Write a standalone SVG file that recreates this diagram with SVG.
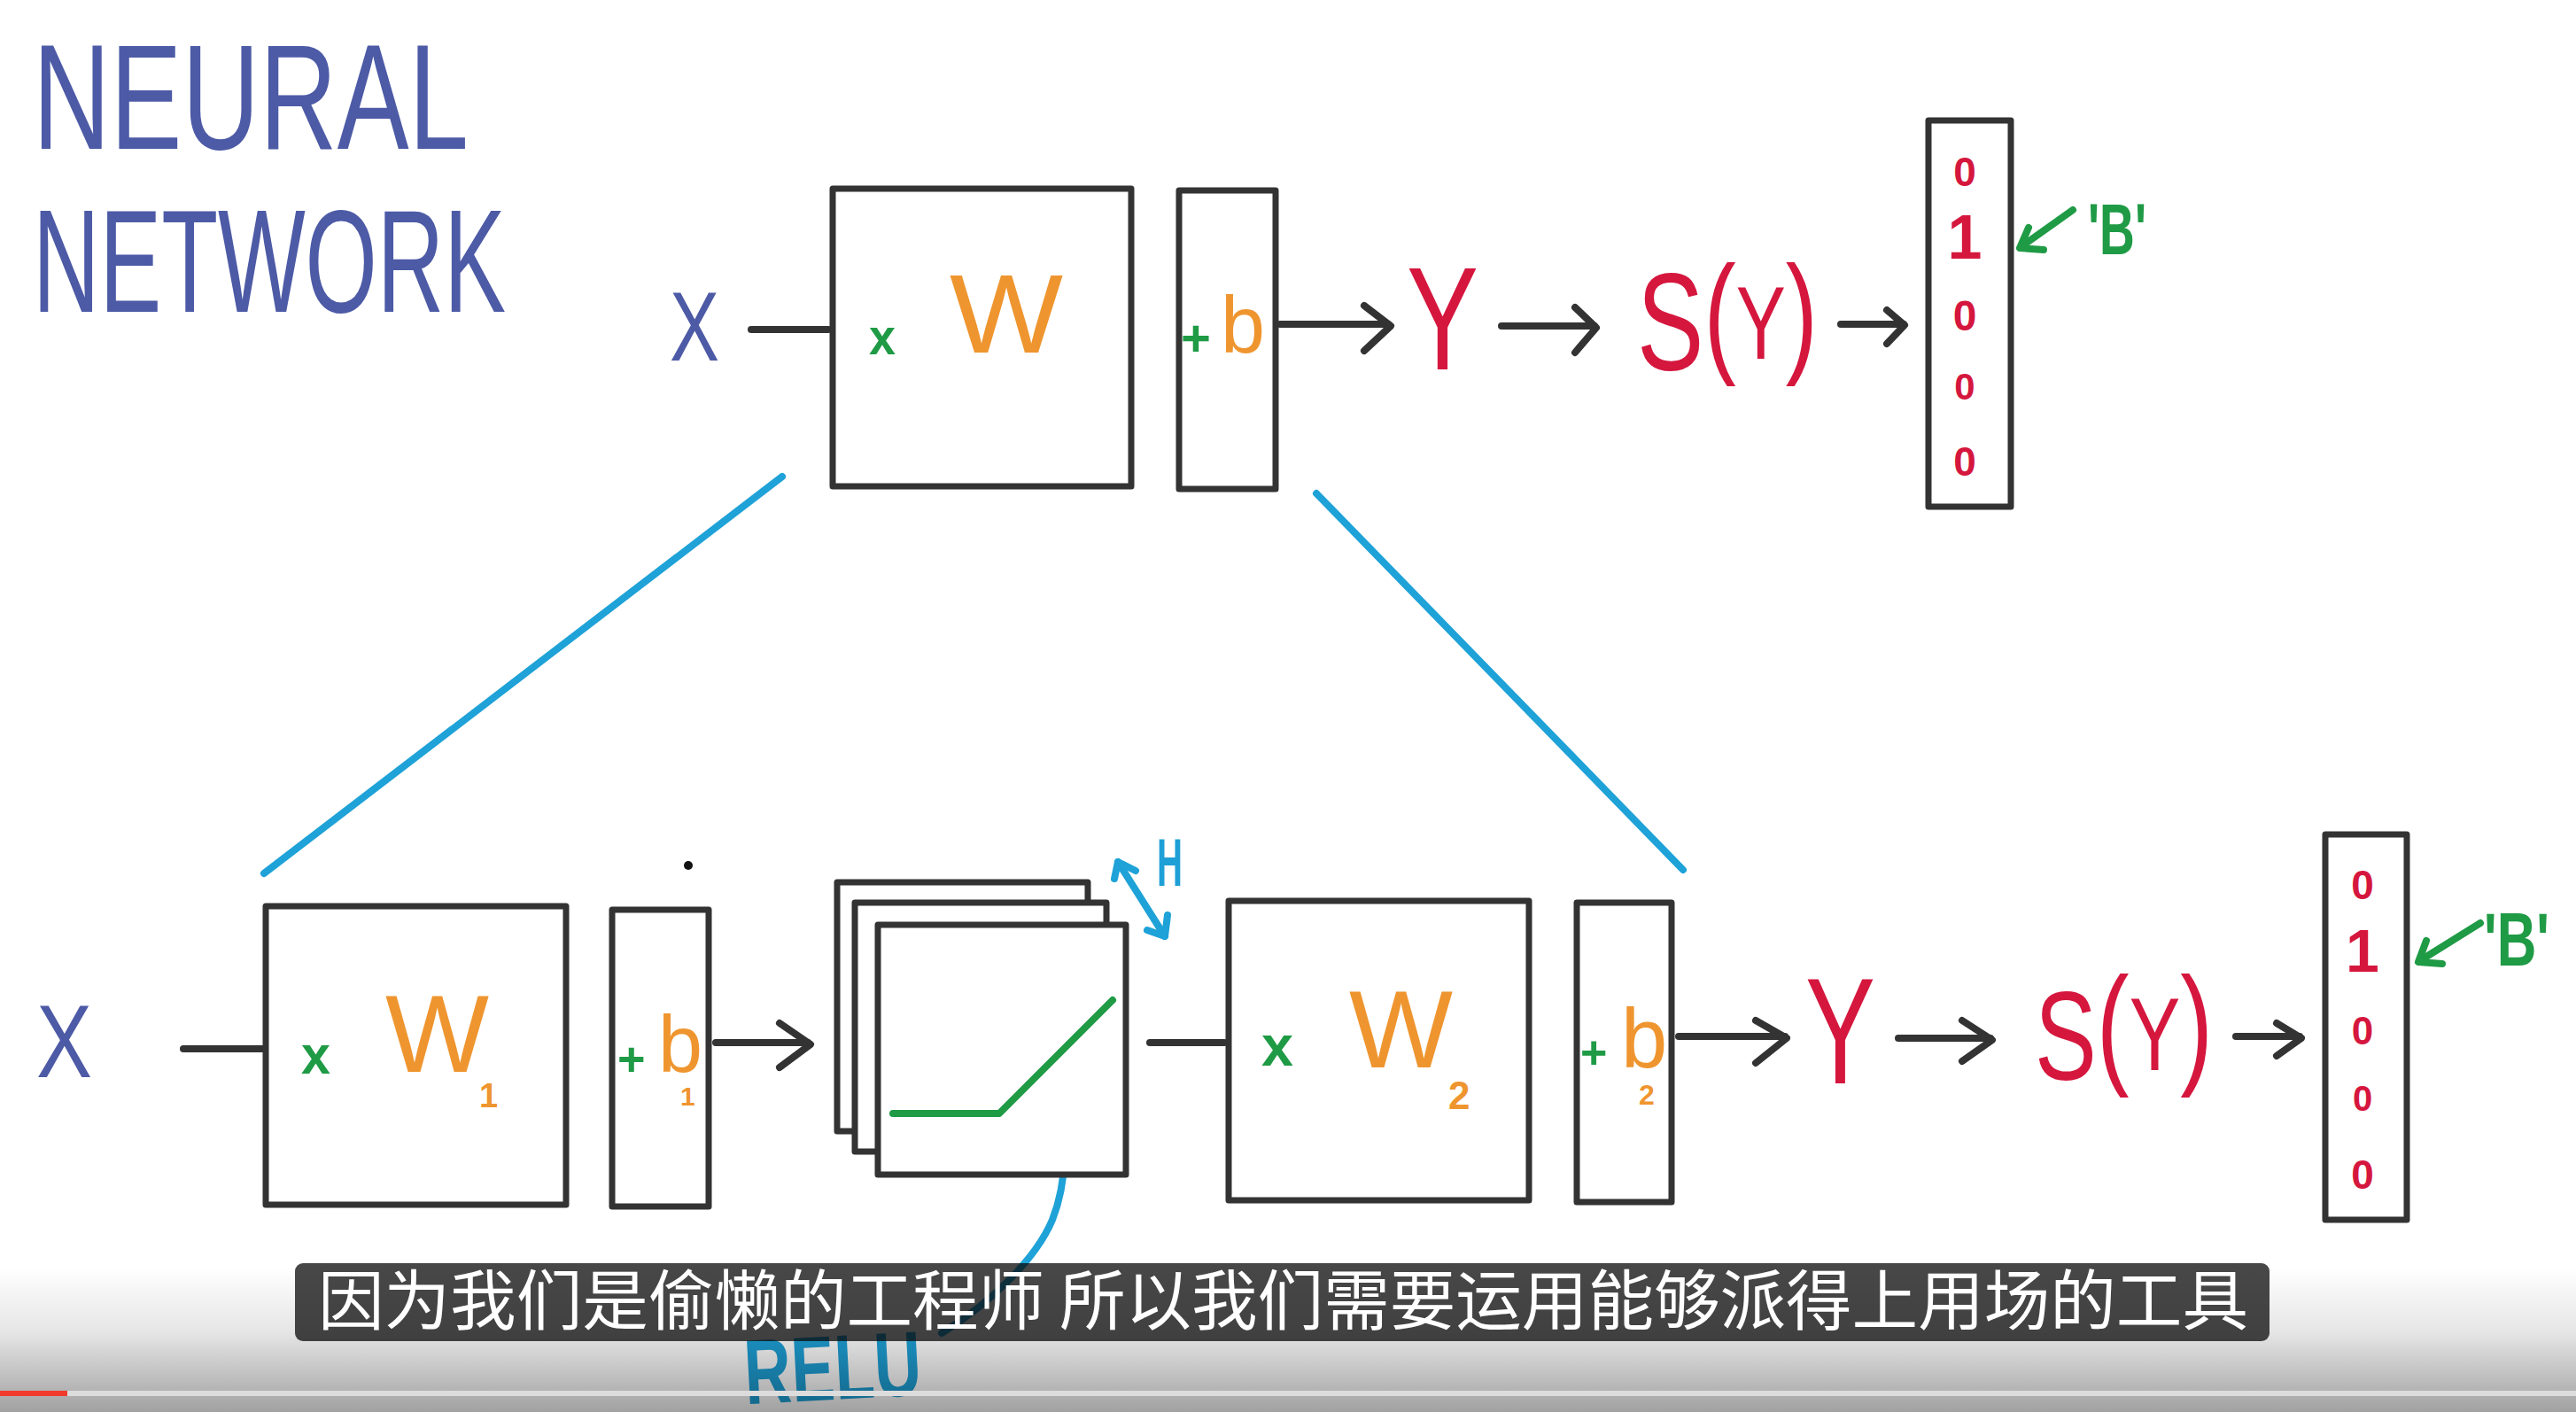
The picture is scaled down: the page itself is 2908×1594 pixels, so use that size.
<svg xmlns="http://www.w3.org/2000/svg" width="2908" height="1594" viewBox="0 0 2908 1594">
<style>
.hw{font-family:"Liberation Sans","DejaVu Sans",sans-serif;}
.pur{fill:#4d5aa6;}
.org{fill:#ef952f;}
.grn{fill:#1f9a45;}
.red{fill:#d5173e;}
.blu{fill:#1ea0d6;}
.bd{font-weight:bold;}
.box{fill:#fff;stroke:#333;stroke-width:7;stroke-linejoin:round;}
.ln{fill:none;stroke:#333;stroke-width:8;stroke-linecap:round;stroke-linejoin:round;}
.bl{fill:none;stroke:#1ea2d7;stroke-width:8;stroke-linecap:round;stroke-linejoin:round;}
.gl{fill:none;stroke:#1f9a45;stroke-width:8;stroke-linecap:round;stroke-linejoin:round;}
.dig{font-family:"Liberation Sans","DejaVu Sans",sans-serif;font-weight:bold;fill:#d5173e;text-anchor:middle;}
</style>
<defs>
<linearGradient id="shade" x1="0" y1="0" x2="0" y2="1">
<stop offset="0" stop-color="#000" stop-opacity="0"/>
<stop offset="0.45" stop-color="#000" stop-opacity="0.1"/>
<stop offset="1" stop-color="#000" stop-opacity="0.37"/>
</linearGradient>
</defs>
<rect width="2908" height="1594" fill="#fff"/>

<g id="title">
<text class="hw pur" x="37" y="168" font-size="168" textLength="492" lengthAdjust="spacingAndGlyphs">NEURAL</text>
<text class="hw pur" x="37" y="352" font-size="166" textLength="534" lengthAdjust="spacingAndGlyphs">NETWORK</text>
</g>

<g id="connectors">
<line class="bl" x1="883" y1="538" x2="298" y2="986"/>
<line class="bl" x1="1486" y1="557" x2="1900" y2="982"/>
<line class="ln" x1="848" y1="372" x2="935" y2="372"/>
<line class="ln" x1="1445" y1="366" x2="1567" y2="366"/>
<polyline class="ln" points="1540,345 1570,368 1540,396"/>
<line class="ln" x1="1695" y1="368" x2="1800" y2="368"/>
<polyline class="ln" points="1778,347 1802,370 1778,398"/>
<line class="ln" x1="2078" y1="366" x2="2149" y2="366"/>
<polyline class="ln" points="2130,350 2150,367 2130,388"/>
<line class="gl" x1="2340" y1="237" x2="2281" y2="279"/>
<polyline class="gl" points="2290,257 2280,280 2307,282"/>
<line class="ln" x1="207" y1="1184" x2="296" y2="1184"/>
<line class="ln" x1="808" y1="1177" x2="912" y2="1177"/>
<polyline class="ln" points="880,1155 915,1179 880,1205"/>
<line class="ln" x1="1298" y1="1177" x2="1382" y2="1177"/>
<line class="ln" x1="1895" y1="1170" x2="2015" y2="1170"/>
<polyline class="ln" points="1982,1152 2017,1172 1982,1200"/>
<line class="ln" x1="2143" y1="1172" x2="2247" y2="1172"/>
<polyline class="ln" points="2215,1152 2249,1174 2215,1198"/>
<line class="ln" x1="2524" y1="1170" x2="2596" y2="1170"/>
<polyline class="ln" points="2570,1155 2598,1172 2570,1192"/>
<line class="gl" x1="2800" y1="1042" x2="2731" y2="1085"/>
<polyline class="gl" points="2739,1062 2730,1086 2757,1088"/>
<line class="bl" x1="1262" y1="973" x2="1315" y2="1057"/>
<polyline class="bl" points="1258,992 1262,973 1282,983"/>
<polyline class="bl" points="1295,1050 1315,1057 1318,1033"/>
<path class="bl" d="M1063,1505 C1120,1470 1170,1420 1188,1377 C1205,1333 1205,1290 1191,1240"/>
<polyline class="bl" points="1175,1278 1190,1237 1222,1265"/>
</g>

<g id="x-top"><text class="hw pur" x="756" y="407" font-size="112" textLength="56" lengthAdjust="spacingAndGlyphs">X</text></g>

<g id="w-top">
<rect class="box" x="940" y="213" width="337" height="336"/>
<text class="hw grn bd" x="981" y="400" font-size="58" textLength="30" lengthAdjust="spacingAndGlyphs">x</text>
<text class="hw org" x="1072" y="398" font-size="126" textLength="128" lengthAdjust="spacingAndGlyphs">W</text>
</g>

<g id="b-top">
<rect class="box" x="1331" y="215" width="109" height="337"/>
<text class="hw" x="1333" y="402" font-size="58"><tspan class="grn bd">+</tspan><tspan class="org" x="1378" y="398" font-size="90">b</tspan></text>
</g>

<g id="y-top"><text class="hw red" x="1588" y="417" font-size="165" textLength="81" lengthAdjust="spacingAndGlyphs">Y</text></g>

<g id="sy-top">
<text class="hw red" x="1848" y="417" font-size="156" textLength="204" lengthAdjust="spacingAndGlyphs">S<tspan y="405" font-size="150">(</tspan><tspan font-size="116">Y</tspan><tspan font-size="150">)</tspan></text>
</g>

<g id="vec-top">
<rect class="box" x="2177" y="136" width="93" height="436"/>
<text class="dig" x="2218" y="210" font-size="46">0</text>
<text class="dig" x="2218" y="292" font-size="70">1</text>
<text class="dig" x="2218" y="373" font-size="48">0</text>
<text class="dig" x="2218" y="451" font-size="42">0</text>
<text class="dig" x="2218" y="537" font-size="46">0</text>
<text class="hw grn bd" x="2357" y="287" font-size="82" textLength="66" lengthAdjust="spacingAndGlyphs">'B'</text>
</g>

<g id="x-bottom"><text class="hw pur" x="41" y="1216" font-size="117" textLength="63" lengthAdjust="spacingAndGlyphs">X</text></g>

<g id="w1">
<rect class="box" x="300" y="1023" width="339" height="337"/>
<text class="hw grn bd" x="340" y="1212" font-size="62" textLength="33" lengthAdjust="spacingAndGlyphs">x</text>
<text class="hw org" x="435" y="1210" font-size="124">W<tspan class="bd" x="541" y="1250" font-size="38">1</tspan></text>
</g>

<g id="b1">
<rect class="box" x="691" y="1027" width="109" height="335"/>
<text class="hw" x="697" y="1214" font-size="54"><tspan class="grn bd">+</tspan><tspan class="org" x="743" y="1210" font-size="90">b</tspan><tspan class="org bd" x="768" y="1248" font-size="30">1</tspan></text>
</g>

<g id="relu">
<rect class="box" x="945" y="996" width="283" height="281"/>
<rect class="box" x="965" y="1019" width="284" height="281"/>
<rect class="box" x="991" y="1044" width="280" height="282"/>
<polyline class="gl" points="1008,1257 1128,1257 1256,1129"/>
<text class="hw blu bd" x="1306" y="1000" font-size="76" textLength="29" lengthAdjust="spacingAndGlyphs">H</text>
</g>

<g id="w2">
<rect class="box" x="1387" y="1017" width="339" height="338"/>
<text class="hw grn bd" x="1424" y="1203" font-size="64" textLength="36" lengthAdjust="spacingAndGlyphs">x</text>
<text class="hw org" x="1523" y="1205" font-size="124">W<tspan class="bd" x="1635" y="1252" font-size="44">2</tspan></text>
</g>

<g id="b2">
<rect class="box" x="1780" y="1019" width="107" height="338"/>
<text class="hw" x="1784" y="1206" font-size="52"><tspan class="grn bd">+</tspan><tspan class="org" x="1830" y="1205" font-size="94">b</tspan><tspan class="org bd" x="1850" y="1247" font-size="32">2</tspan></text>
</g>

<g id="y-bottom"><text class="hw red" x="2038" y="1223" font-size="170" textLength="79" lengthAdjust="spacingAndGlyphs">Y</text></g>

<g id="sy-bottom">
<text class="hw red" x="2297" y="1219" font-size="142" textLength="201" lengthAdjust="spacingAndGlyphs">S<tspan y="1208" font-size="150">(</tspan><tspan font-size="117">Y</tspan><tspan font-size="150">)</tspan></text>
</g>

<g id="vec-bottom">
<rect class="box" x="2625" y="942" width="92" height="435"/>
<text class="dig" x="2667" y="1015" font-size="46">0</text>
<text class="dig" x="2667" y="1097" font-size="68">1</text>
<text class="dig" x="2667" y="1179" font-size="44">0</text>
<text class="dig" x="2667" y="1254" font-size="40">0</text>
<text class="dig" x="2667" y="1342" font-size="46">0</text>
<text class="hw grn bd" x="2804" y="1090" font-size="86" textLength="74" lengthAdjust="spacingAndGlyphs">'B'</text>
</g>

<circle cx="777" cy="977" r="5" fill="#111"/>

<g id="relu-label">
<text class="hw blu bd" x="840" y="1580" font-size="104" textLength="200" lengthAdjust="spacingAndGlyphs" transform="rotate(-3 940 1545)">RELU</text>
</g>

<g id="player">
<rect x="0" y="1430" width="2908" height="164" fill="url(#shade)"/>
<rect x="0" y="1570" width="2908" height="6" fill="#dcdcdc"/>
<rect x="0" y="1570" width="76" height="6" fill="#f23a2c"/>
</g>

<g id="subtitle">
<rect x="333" y="1426" width="2229" height="88" rx="9" fill="#0a0a0a" fill-opacity="0.75"/>
<text x="359" y="1495" font-size="74" fill="#fff" font-family="'Noto Sans CJK SC','Noto Sans CJK JP',sans-serif" textLength="2179" lengthAdjust="spacingAndGlyphs">因为我们是偷懒的工程师 所以我们需要运用能够派得上用场的工具</text>
</g>
</svg>
